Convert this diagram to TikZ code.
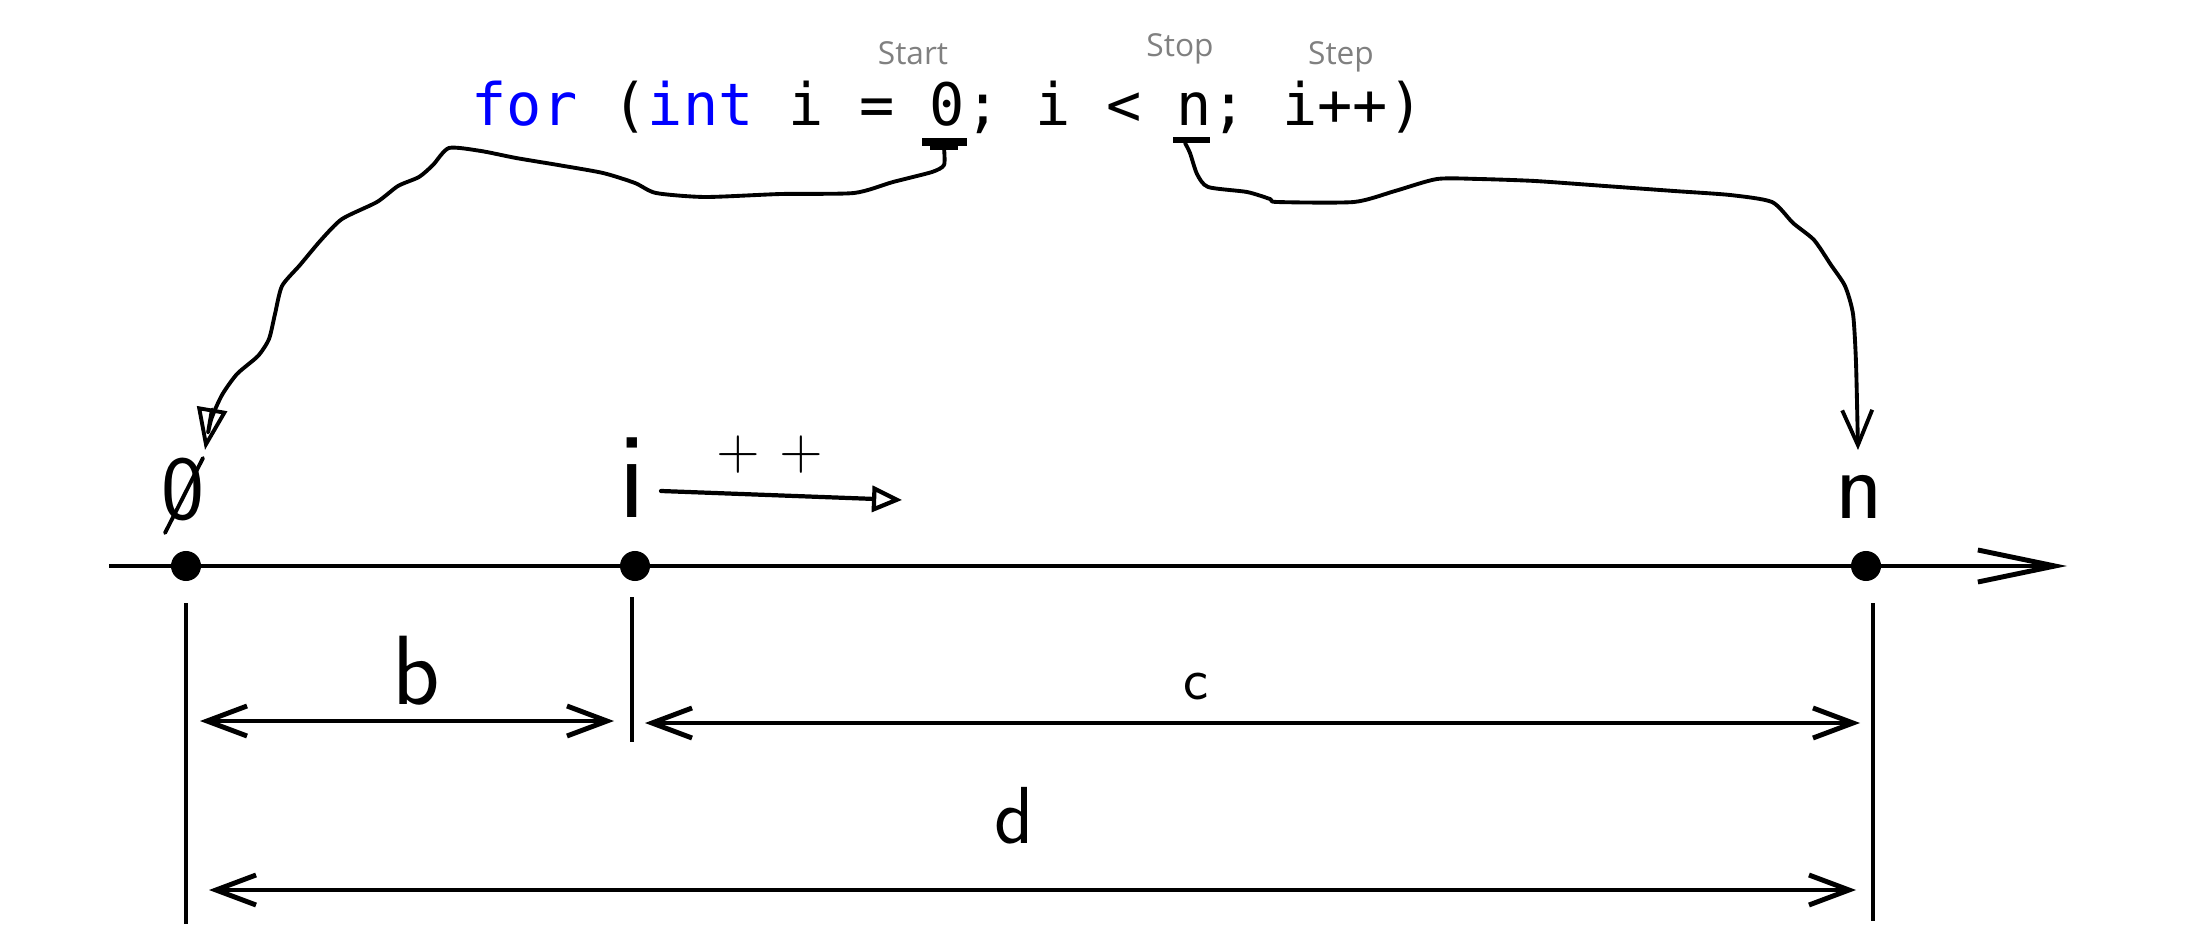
\documentclass[tikz,border=0pt]{standalone}
\usepackage{fontspec}
\newfontfamily\codefont{DejaVu Sans Mono}
\newfontfamily\notefont{Open Sans}
\usetikzlibrary{arrows.meta}
\usetikzlibrary{calc}
\usetikzlibrary{positioning}
\definecolor{kwblue}{RGB}{0,0,255}
\definecolor{notegray}{RGB}{128,128,128}

\tikzset{
  hand/.style={line width=1.1pt, line cap=round, line join=round},
  dimline/.style={line width=1.4pt, {Straight Barb[length=0.4cm, width=0.3cm]}-{Straight Barb[length=0.4cm, width=0.3cm]}},
  tickline/.style={line width=1.1pt},
  dot/.style={circle, fill, inner sep=0pt, minimum size=0.3cm},
  letter/.style={font=\sffamily, inner sep=0pt},
  note/.style={font=\notefont\fontsize{9}{9}\selectfont, text=notegray, inner sep=0pt},
}

\begin{document}
\begin{tikzpicture}[x=0.01cm, y=-0.01cm]
    \useasboundingbox[fill=white] (0,0) rectangle (2188,946);

    \coordinate (zeroMark) at (944,148);
    \coordinate (nMark) at (1185,143);
    \coordinate (lineStart) at (109,566);
    \coordinate (lineEnd) at (2067,566);
    \coordinate (stepFrom) at (661,491);
    \coordinate (stepTo) at (902,500);

    \coordinate (bL) at (200,721);
    \coordinate (bR) at (614,721);
    \coordinate (cL) at (645,723);
    \coordinate (cR) at (1860,723);
    \coordinate (dL) at (209,890);
    \coordinate (dR) at (1856,890);

    % code line and notes
    \node[anchor=base west, inner sep=0pt, font=\codefont\fontsize{16.65}{16.65}\selectfont] (code) at (471,126)
        {{\color{kwblue}for} ({\color{kwblue}int} i = 0; i < n; i++)};
    \node[note] (start) at (913,53) {Start};
    \node[note] (stop) at (1180,49) {Stop};
    \node[note] (stepnote) at (1341,57) {Step};

    \draw[line width=2pt] (922,142) -- (967,142);
    \draw[line width=1.5pt] (930,147) -- (958,147);
    \draw[line width=1.8pt] (1173,140) -- (1210,140);

    % number line
    \draw[line width=1.4pt, -{Straight Barb[length=0.77cm, width=0.32cm]}] (lineStart) -- (lineEnd);
    \node[dot] (zero) at (186,566) {};
    \node[dot] (ipos) at (635,566) {};
    \node[dot] (npos) at (1866,566) {};

    \node[letter, font=\sffamily\fontsize{26}{26}\selectfont] (zeroLabel) at (183,490) {0};
    \node[letter, font=\sffamily\fontsize{35}{35}\selectfont] (iLabel) at (632,478) {i};
    \node[letter, font=\sffamily\fontsize{28}{28}\selectfont] (nLabel) at (1859,497) {n};
    \node[letter, font=\sffamily\fontsize{17}{17}\selectfont] (incLabel) at (770,455) {+ +};

    % start -> 0
    \draw[hand, -{Triangle[open, length=0.42cm, width=0.3cm]}] plot[smooth, tension=0.4] coordinates {
        (zeroMark) (944,165) (932,172) (893,182) (854,193) (781,194) (705,197) (656,193)
        (635,183) (603,173) (558,165) (516,158) (481,151) (449,148) (433,165) (419,177)
        (398,186) (377,202) (342,219) (321,240) (300,265) (282,286) (275,314) (269,339)
        (258,356) (237,374) (222,395) (211,420) (205,450)};
    \draw[hand] (203,458) -- (165,533);

    % stop -> n
    \draw[hand, -{Straight Barb[length=0.35cm, width=0.3cm]}] plot[smooth, tension=0.4] coordinates {
        (nMark) (1190,153) (1197,174) (1208,187) (1247,192) (1270,199) (1277,202) (1354,202)
        (1395,191) (1437,179) (1479,179) (1535,181) (1605,186) (1674,191) (1730,195)
        (1772,202) (1793,223) (1814,240) (1831,265) (1845,286) (1853,314) (1856,363)
        (1858,450)};

    \draw[hand, line width=1.2pt, -{Triangle[open, length=0.3cm, width=0.26cm]}] (stepFrom) -- (stepTo);

    % lengths
    \draw[tickline] (186,603) -- (186,924);
    \draw[tickline] (632,597) -- (632,742);
    \draw[tickline] (1873,603) -- (1873,921);

    \draw[dimline] (bL) -- (bR);
    \draw[dimline] (cL) -- (cR);
    \draw[dimline] (dL) -- (dR);

    \node[letter, font=\sffamily\fontsize{28}{28}\selectfont] (bLabel) at (416,671) {b};
    \node[letter, font=\sffamily\fontsize{17}{17}\selectfont] (cLabel) at (1196,687) {c};
    \node[letter, font=\sffamily\fontsize{23}{23}\selectfont] (dLabel) at (1014,816) {d};
\end{tikzpicture}
\end{document}
